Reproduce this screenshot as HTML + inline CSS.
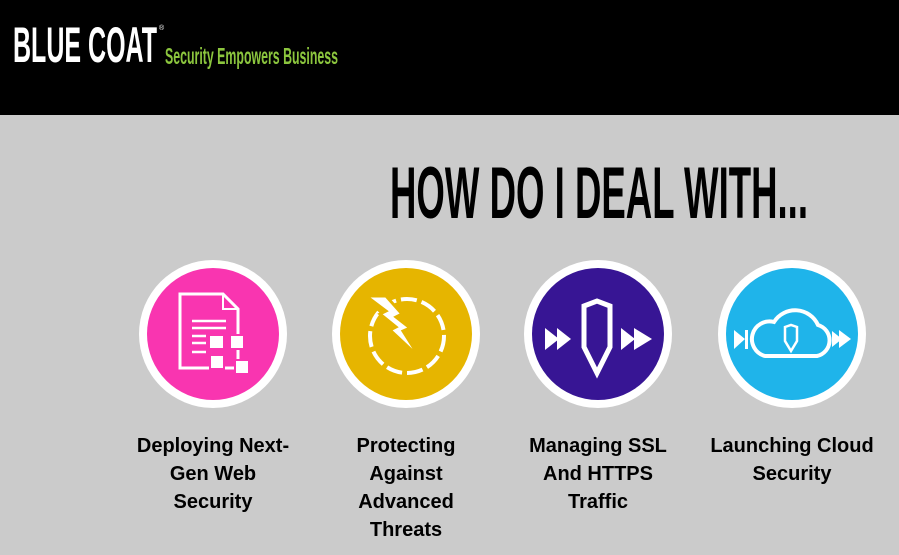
<!DOCTYPE html>
<html><head><style>
body{margin:0;width:899px;height:555px;background:#cbcbcb;overflow:hidden;font-family:"Liberation Sans",sans-serif}
</style></head><body>
<svg width="899" height="555" xmlns="http://www.w3.org/2000/svg" style="position:absolute;left:0;top:0">
<rect x="0" y="0" width="899" height="115" fill="#000"/>
<text x="13" y="62" font-family="Liberation Sans" font-weight="bold" font-size="50" fill="#fff" textLength="144" lengthAdjust="spacingAndGlyphs">BLUE COAT</text>
<text x="159" y="30" font-size="7" fill="#fff">®</text>
<text x="165" y="64" font-family="Liberation Sans" font-weight="bold" font-size="23" fill="#8cc63e" textLength="173" lengthAdjust="spacingAndGlyphs">Security Empowers Business</text>
<text x="390" y="218" font-family="Liberation Sans" font-weight="bold" font-size="73" fill="#000" textLength="418" lengthAdjust="spacingAndGlyphs">HOW DO I DEAL WITH...</text>

<g>
<circle cx="213" cy="334" r="74" fill="#fff"/><circle cx="213" cy="334" r="66" fill="#f935b0"/>
<path d="M180 294 H223 L238 309 V368 H180 Z" fill="none" stroke="#fff" stroke-width="3"/>
<path d="M223 294 V309 H238" fill="none" stroke="#fff" stroke-width="2"/>
<g stroke="#fff" stroke-width="2.5"><line x1="192" y1="321" x2="226" y2="321"/><line x1="192" y1="328" x2="226" y2="328"/><line x1="192" y1="336" x2="206" y2="336"/><line x1="192" y1="343" x2="206" y2="343"/><line x1="192" y1="352" x2="206" y2="352"/></g>
<g fill="#fff" stroke="#f935b0" stroke-width="2"><rect x="209" y="335" width="15" height="14"/><rect x="230" y="335" width="14" height="14"/><rect x="210" y="355" width="14" height="14"/><rect x="235" y="360" width="14" height="14"/></g>
</g>

<g>
<circle cx="406" cy="334" r="74" fill="#fff"/><circle cx="406" cy="334" r="66" fill="#e6b500"/>
<circle cx="407" cy="336" r="37" fill="none" stroke="#fff" stroke-width="4" stroke-dasharray="16 5"/>
<path d="M366 296 L386 296 L402 314 L396 317 L410 328 L403 331 L420 358 L390 330 L396 327 L380 314 L386 311 Z" fill="#fff" stroke="#e6b500" stroke-width="3" stroke-linejoin="miter"/>
</g>

<g>
<circle cx="598" cy="334" r="74" fill="#fff"/><circle cx="598" cy="334" r="66" fill="#371594"/>
<path d="M584 306 L597 301 L610 306 V347 L597 373 L584 347 Z" fill="none" stroke="#fff" stroke-width="5"/>
<g fill="#fff"><path d="M545 328 L559 339 L545 350Z"/><path d="M557 328 L571 339 L557 350Z"/><path d="M621 328 L635 339 L621 350Z"/><path d="M634 328 L652 339 L634 350Z"/></g>
</g>

<g>
<circle cx="792" cy="334" r="74" fill="#fff"/><circle cx="792" cy="334" r="66" fill="#1fb4ea"/>
<path d="M765 356 H817 A16 16 0 0 0 818 325 A25 25 0 0 0 774 322 A17 17 0 0 0 765 356 Z" fill="none" stroke="#fff" stroke-width="4"/>
<path d="M785 327 L791 325 L797 327 V341 L791 351 L785 341 Z" fill="none" stroke="#fff" stroke-width="2.5"/>
<g fill="#fff"><path d="M734 330 L745 339 L734 349Z"/><rect x="745" y="330" width="3" height="19"/><path d="M832 331 L842 339 L832 347Z"/><path d="M839 330 L851 339 L839 348Z"/></g>
</g>

<g font-family="Liberation Sans" font-weight="bold" font-size="20" fill="#000" text-anchor="middle">
<text x="213" y="452">Deploying Next-</text><text x="213" y="480">Gen Web</text><text x="213" y="508">Security</text>
<text x="406" y="452">Protecting</text><text x="406" y="480">Against</text><text x="406" y="508">Advanced</text><text x="406" y="536">Threats</text>
<text x="598" y="452">Managing SSL</text><text x="598" y="480">And HTTPS</text><text x="598" y="508">Traffic</text>
<text x="792" y="452">Launching Cloud</text><text x="792" y="480">Security</text>
</g>
</svg>
</body></html>
